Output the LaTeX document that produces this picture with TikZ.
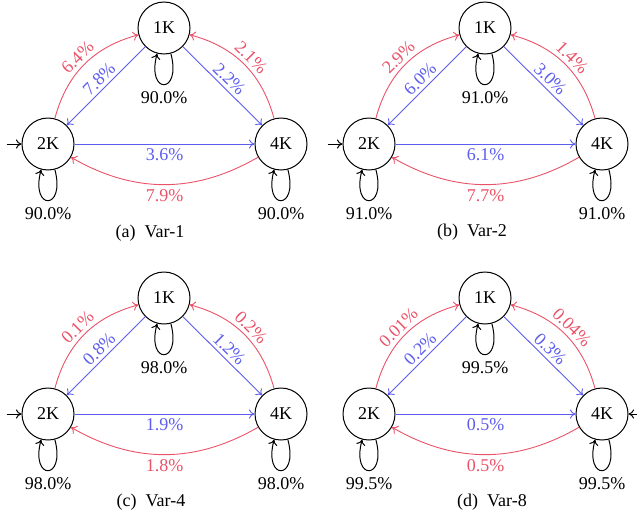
\documentclass[tikz,border=0pt]{standalone}
\usepackage{fontspec}
\setmainfont{Liberation Serif}
\usetikzlibrary{calc,arrows.meta}

\definecolor{flowred}{RGB}{234,82,104}
\definecolor{flowblue}{RGB}{92,92,238}

\tikzset{
  >={Computer Modern Rightarrow[length=2.8pt, width=4.6pt]},
  stt/.style={circle, draw, line width=0.5pt, minimum size=26pt, inner sep=0pt},
  redarc/.style={->, line width=0.45pt, draw=flowred, text=flowred},
  bluearc/.style={->, line width=0.45pt, draw=flowblue, text=flowblue},
  selfloop/.style={->, line width=0.5pt, draw=black},
  tilt/.style={above, sloped, inner sep=1.6pt},
}

% One three-state chain: #1 name prefix, #2 self-loop value,
% #3 2K->1K, #4 1K->2K, #5 1K->4K, #6 4K->1K, #7 2K->4K, #8 4K->2K
\newcommand\markovpanel[8]{%
  \node[stt] (#1two)  at (48,-144) {2K};
  \node[stt] (#1one)  at (164,-28) {1K};
  \node[stt] (#1four) at (281,-144) {4K};
  \draw[redarc]  (#1two)  to[bend left=30]  node[tilt] {#3} (#1one);
  \draw[bluearc] (#1one)  -- node[tilt] {#4} (#1two);
  \draw[bluearc] (#1one)  -- node[tilt] {#5} (#1four);
  \draw[redarc]  (#1four) to[bend right=30] node[tilt] {#6} (#1one);
  \draw[bluearc] (#1two)  -- node[below, inner sep=2pt] {#7} (#1four);
  \draw[redarc]  (#1four) to[bend left=30]  node[below, inner sep=2pt] {#8} (#1two);
  \foreach \s in {one,two,four}{%
    \draw[selfloop] (#1\s) to[loop below] node {#2} (#1\s);
  }%
}

\begin{document}
\begin{tikzpicture}[x=0.5pt, y=0.5pt, font=\fontsize{9}{11}\selectfont]
  \useasboundingbox (0,0) rectangle (637,-520);

  % (a) Var-1
  \begin{scope}
    \markovpanel{a}{90.0\%}{6.4\%}{7.8\%}{2.2\%}{2.1\%}{3.6\%}{7.9\%}
    \coordinate (ainit) at ($(atwo.west)+(-15,0)$);
    \draw[selfloop] (ainit) -- (atwo);
    \node (acap) at (150,-233) {(a)\enspace Var-1};
  \end{scope}

  % (b) Var-2
  \begin{scope}[shift={(321,0)}]
    \markovpanel{b}{91.0\%}{2.9\%}{6.0\%}{3.0\%}{1.4\%}{6.1\%}{7.7\%}
    \coordinate (binit) at ($(btwo.west)+(-15,0)$);
    \draw[selfloop] (binit) -- (btwo);
    \node (bcap) at (151,-232) {(b)\enspace Var-2};
  \end{scope}

  % (c) Var-4
  \begin{scope}[shift={(0,-270)}]
    \markovpanel{c}{98.0\%}{0.1\%}{0.8\%}{1.2\%}{0.2\%}{1.9\%}{1.8\%}
    \coordinate (cinit) at ($(ctwo.west)+(-15,0)$);
    \draw[selfloop] (cinit) -- (ctwo);
    \node (ccap) at (151,-232) {(c)\enspace Var-4};
  \end{scope}

  % (d) Var-8
  \begin{scope}[shift={(321,-270)}]
    \markovpanel{d}{99.5\%}{0.01\%}{0.2\%}{0.3\%}{0.04\%}{0.5\%}{0.5\%}
    \coordinate (dinit) at ($(dfour.east)+(15,0)$);
    \draw[selfloop] (dinit) -- (dfour);
    \node (dcap) at (171,-232) {(d)\enspace Var-8};
  \end{scope}
\end{tikzpicture}
\end{document}
